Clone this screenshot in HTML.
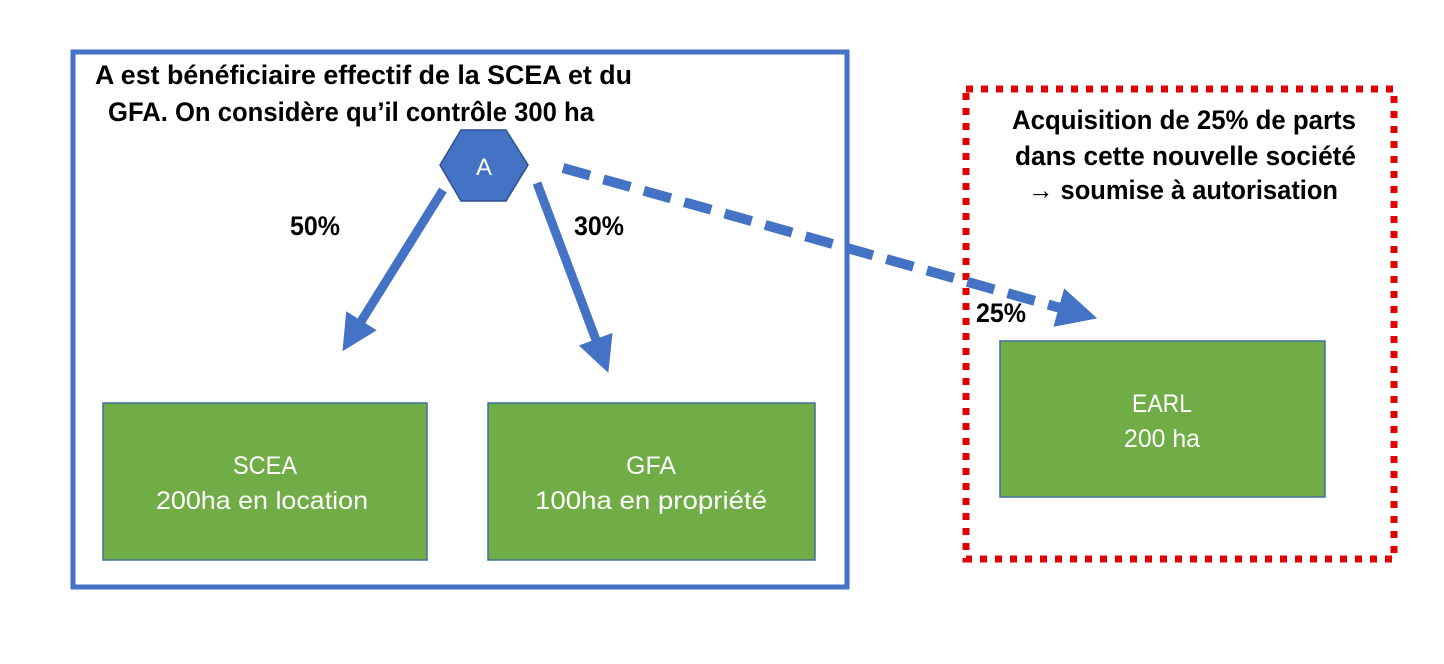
<!DOCTYPE html>
<html><head><meta charset="utf-8"><style>
html,body{margin:0;padding:0;background:#fff;}
svg{display:block;}
text{font-family:"Liberation Sans",sans-serif;}
</style></head><body>
<svg width="1444" height="664" viewBox="0 0 1444 664" xmlns="http://www.w3.org/2000/svg">
<defs>
<marker id="ah" markerWidth="4" markerHeight="4" refX="2" refY="2" orient="auto" markerUnits="strokeWidth">
<path d="M0,0 L4,2 L0,4 Z" fill="#4472c4"/>
</marker>
</defs>
<rect x="73" y="52" width="774" height="535" fill="none" stroke="#4472c4" stroke-width="5"/>
<rect x="966" y="89" width="428" height="470" fill="none" stroke="#e00000" stroke-width="7" stroke-dasharray="7 8"/>
<g font-weight="bold" font-size="27" fill="#000">
<text x="95" y="84" textLength="537" lengthAdjust="spacingAndGlyphs">A est bénéficiaire effectif de la SCEA et du</text>
<text x="108" y="121" textLength="486" lengthAdjust="spacingAndGlyphs">GFA. On considère qu’il contrôle 300 ha</text>
<text x="290" y="235" textLength="50" lengthAdjust="spacingAndGlyphs">50%</text>
<text x="574" y="235" textLength="50" lengthAdjust="spacingAndGlyphs">30%</text>
<text x="976" y="322" textLength="50" lengthAdjust="spacingAndGlyphs">25%</text>
<text x="1012" y="129" textLength="344" lengthAdjust="spacingAndGlyphs">Acquisition de 25% de  parts</text>
<text x="1015" y="165" textLength="341" lengthAdjust="spacingAndGlyphs">dans cette nouvelle société</text>
<text x="1028" y="199" textLength="310" lengthAdjust="spacingAndGlyphs">→ soumise à autorisation</text>
</g>
<polygon points="440,165 461,130 506,130 528,165 506,201 461,201" fill="#4472c4" stroke="#2f528f" stroke-width="1.5"/>
<text x="484" y="175" font-size="24" fill="#fff" text-anchor="middle">A</text>
<line x1="443" y1="190" x2="352" y2="336" stroke="#4472c4" stroke-width="9" marker-end="url(#ah)"/>
<line x1="537" y1="183" x2="602" y2="356" stroke="#4472c4" stroke-width="9" marker-end="url(#ah)"/>
<line x1="563" y1="168" x2="1078" y2="313" stroke="#4472c4" stroke-width="10" stroke-dasharray="28 14" marker-end="url(#ah)"/>
<g fill="#70ad47" stroke="#41719c" stroke-width="1.5">
<rect x="103" y="403" width="324" height="157"/>
<rect x="488" y="403" width="327" height="157"/>
<rect x="1000" y="341" width="325" height="156"/>
</g>
<g fill="#fff" font-size="25" text-anchor="middle">
<text x="265" y="474" textLength="64" lengthAdjust="spacingAndGlyphs">SCEA</text>
<text x="262" y="509" textLength="212" lengthAdjust="spacingAndGlyphs">200ha en location</text>
<text x="651" y="474" textLength="50" lengthAdjust="spacingAndGlyphs">GFA</text>
<text x="651" y="509" textLength="232" lengthAdjust="spacingAndGlyphs">100ha en propriété</text>
<text x="1162" y="412" textLength="60" lengthAdjust="spacingAndGlyphs">EARL</text>
<text x="1162" y="447" textLength="76" lengthAdjust="spacingAndGlyphs">200 ha</text>
</g>
</svg>
</body></html>
